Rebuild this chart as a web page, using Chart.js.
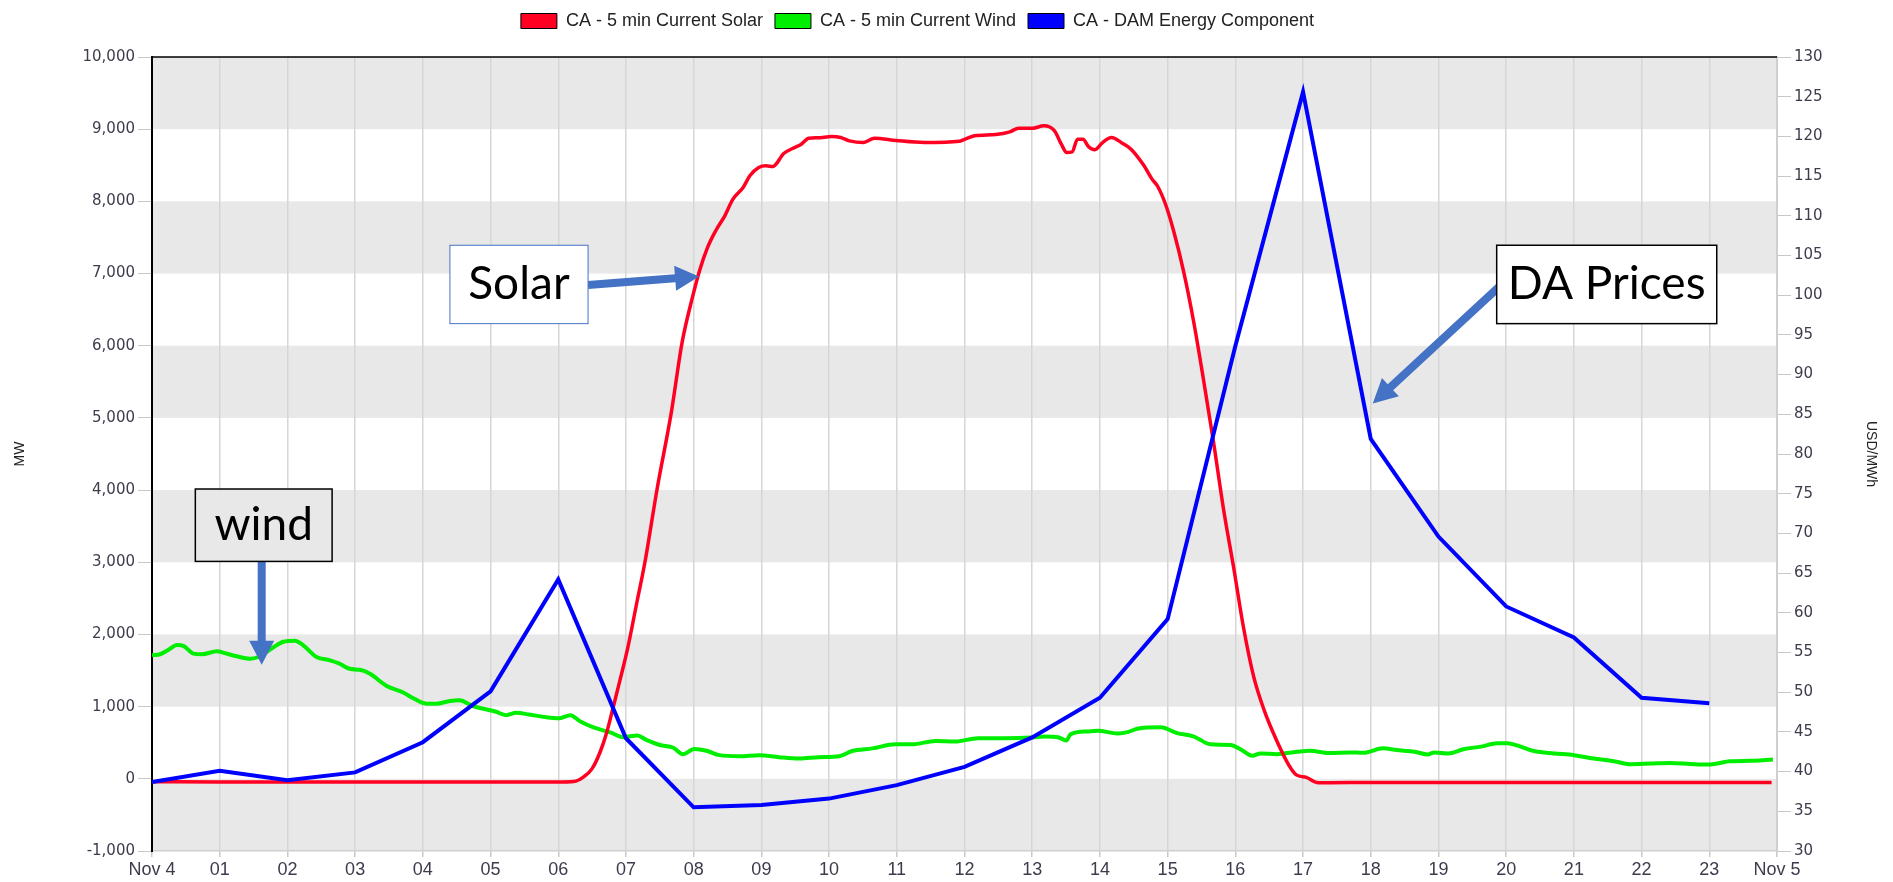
<!DOCTYPE html>
<html>
<head>
<meta charset="utf-8">
<script src="https://cdn.jsdelivr.net/npm/chart.js@4"></script>
<style>
  html, body { margin: 0; padding: 0; background: #fff; }
  canvas { display: block; }
</style>
</head>
<body>
<canvas id="solarWindChart" width="1893" height="882"></canvas>
<script>
// x axis tick labels, one per hour
const hourLabels = ['Nov 4', '01', '02', '03', '04', '05', '06', '07', '08', '09', '10', '11',
    '12', '13', '14', '15', '16', '17', '18', '19', '20', '21', '22', '23', 'Nov 5'];

// CA - 5 min Current Solar (MW)
const solarHours = [0, 1, 2, 3, 4, 5, 5.75, 6.0, 6.23, 6.37, 6.5, 6.62, 6.72, 6.81, 6.91, 7.03, 7.16, 7.28,
    7.46, 7.67, 7.83, 7.99, 8.09, 8.2, 8.33, 8.46, 8.58, 8.73, 8.83, 8.96, 9.07, 9.17, 9.33, 9.46, 9.59,
    9.7, 9.83, 10.04, 10.17, 10.3, 10.51, 10.67, 10.99, 11.41, 11.93, 12.01, 12.15, 12.46, 12.67, 12.8,
    13.01, 13.17, 13.33, 13.43, 13.51, 13.59, 13.67, 13.75, 13.83, 13.92, 14.04, 14.17, 14.33, 14.46,
    14.65, 14.77, 14.85, 14.97, 15.09, 15.24, 15.39, 15.53, 15.68, 15.83, 15.98, 16.12, 16.27, 16.42,
    16.61, 16.79, 16.9, 17.05, 17.2, 17.4, 18, 19, 20, 21, 22, 23, 23.92];
const solarMW = [-40, -45, -45, -45, -45, -45, -45, -45, -38, 23, 141, 375, 657, 985, 1360, 1829, 2439, 3000,
    4016, 5077, 6050, 6700, 7050, 7350, 7600, 7800, 8031, 8192, 8354, 8469, 8492, 8483, 8663, 8732, 8792,
    8875, 8880, 8898, 8885, 8838, 8815, 8875, 8843, 8815, 8834, 8862, 8908, 8926, 8963, 9014,
    9014, 9046, 8977, 8792, 8677, 8686, 8862, 8862, 8760, 8714, 8815, 8885, 8806, 8723,
    8496, 8308, 8213, 7957, 7586, 7013, 6305, 5529, 4653, 3709, 2900, 2100, 1420, 965,
    530, 190, 55, 20, -50, -55, -50, -50, -50, -50, -50, -50, -50];

// CA - 5 min Current Wind (MW)
const windHours = [0, 0.12, 0.25, 0.37, 0.47, 0.61, 0.74, 0.96, 1.06, 1.25, 1.45, 1.57, 1.79, 1.94, 2.11,
    2.23, 2.43, 2.63, 2.77, 2.92, 3.07, 3.22, 3.46, 3.71, 3.86, 4.05, 4.2, 4.4, 4.54, 4.74, 4.94, 5.08,
    5.23, 5.38, 5.57, 5.82, 6.02, 6.18, 6.32, 6.52, 6.77, 6.96, 7.17, 7.3, 7.5, 7.7, 7.84, 8.01, 8.19,
    8.38, 8.68, 8.97, 9.26, 9.56, 9.85, 10.15, 10.34, 10.64, 10.98, 11.23, 11.57, 11.86, 12.2, 12.59,
    12.99, 13.18, 13.38, 13.5, 13.57, 13.82, 13.97, 14.26, 14.41, 14.55, 14.9, 15.14, 15.39, 15.63,
    15.93, 16.07, 16.25, 16.37, 16.61, 16.91, 17.1, 17.4, 17.69, 17.89, 18.18, 18.38, 18.65, 18.84,
    18.94, 19.14, 19.38, 19.63, 19.87, 20.02, 20.17, 20.41, 20.71, 21.0, 21.29, 21.59, 21.83, 22.13,
    22.42, 22.72, 22.96, 23.11, 23.3, 23.6, 23.79, 23.94];
const windMW = [1712, 1726, 1792, 1853, 1838, 1735, 1726, 1768, 1745, 1698, 1665, 1688, 1820, 1899, 1914,
    1853, 1688, 1642, 1595, 1524, 1510, 1454, 1290, 1196, 1116, 1041, 1041, 1079, 1088, 1008, 961, 929,
    882, 915, 891, 854, 840, 882, 797, 713, 642, 577, 600, 539, 469, 431, 342, 413, 389,
    328, 314, 328, 300, 281, 300, 314, 385, 422, 478, 478, 525, 516, 563, 563,
    572, 586, 577, 530, 619, 657, 666, 628, 647, 694, 713, 633, 586, 478,
    469, 413, 319, 352, 342, 375, 389, 356, 366, 361, 422, 399, 375, 338,
    366, 352, 413, 446, 492, 492, 460, 385, 352, 328, 281, 244, 202, 211,
    220, 206, 197, 211, 244, 249, 258, 267];

// CA - DAM Energy Component (USD/MWh), hourly
const damHours = [0, 1, 2, 3, 4, 5, 6, 7, 8, 9, 10, 11, 12, 13, 14, 15, 16, 17, 18, 19, 20, 21, 22, 23];
const damPrice = [38.7, 40.1, 38.9, 39.9, 43.7, 50.1, 64.2, 44.2, 35.5, 35.8, 36.6, 38.3, 40.6, 44.3,
    49.3, 59.2, 93.6, 125.6, 81.9, 69.6, 60.8, 56.9, 49.3, 48.6];

const toPoints = (xs, ys) => xs.map((x, i) => ({ x: x, y: ys[i] }));

// callout boxes and arrows drawn over the chart (data coordinates)
const callouts = [
    { text: 'wind', x0: 0.64, x1: 2.66, y0: 3012, y1: 4015, fill: '#e8e8e8', stroke: '#000', lw: 1.5 },
    { text: 'Solar', x0: 4.40, x1: 6.44, y0: 6306, y1: 7392, fill: '#fff', stroke: '#4472c4', lw: 1 },
    { text: 'DA Prices', x0: 19.86, x1: 23.11, y0: 6306, y1: 7392, fill: '#fff', stroke: '#000', lw: 1.5 }
];
const arrows = [
    { from: [1.62, 3012], to: [1.62, 1580] },
    { from: [6.44, 6840], to: [8.08, 6960] },
    { from: [19.9, 6820], to: [18.03, 5200] }
];

function drawArrow(ctx, x1, y1, x2, y2, shaft, headW, headL, color) {
    const ang = Math.atan2(y2 - y1, x2 - x1);
    const len = Math.hypot(x2 - x1, y2 - y1);
    ctx.save();
    ctx.translate(x1, y1);
    ctx.rotate(ang);
    ctx.fillStyle = color;
    ctx.beginPath();
    ctx.moveTo(0, -shaft / 2);
    ctx.lineTo(len - headL, -shaft / 2);
    ctx.lineTo(len - headL, -headW / 2);
    ctx.lineTo(len, 0);
    ctx.lineTo(len - headL, headW / 2);
    ctx.lineTo(len - headL, shaft / 2);
    ctx.lineTo(0, shaft / 2);
    ctx.closePath();
    ctx.fill();
    ctx.restore();
}

const bandsPlugin = {
    id: 'bands',
    beforeInit(chart) {
        const legend = chart.legend;
        const fit = legend.fit;
        legend.fit = function () {
            fit.call(this);
            this.height = 57;
        };
        // the legend sits a little left of centre in the original
        const draw = legend.draw;
        legend.draw = function () {
            const ctx = this.ctx;
            ctx.save();
            ctx.translate(-28, 0);
            draw.call(this);
            ctx.restore();
        };
    },
    beforeDraw(chart) {
        const { ctx, chartArea: a, scales: { y } } = chart;
        ctx.save();
        ctx.fillStyle = '#fff';
        ctx.fillRect(0, 0, chart.width, chart.height);
        ctx.fillStyle = '#e8e8e8';
        for (let v = -1000; v <= 9000; v += 2000) {
            const top = y.getPixelForValue(v + 1000);
            const bottom = y.getPixelForValue(v);
            ctx.fillRect(a.left, top, a.right - a.left, bottom - top);
        }
        ctx.restore();
    },
    afterDraw(chart) {
        const { ctx, chartArea: a, scales: { x, y } } = chart;
        ctx.save();
        // top border
        ctx.strokeStyle = '#000';
        ctx.lineWidth = 1.5;
        ctx.beginPath();
        ctx.moveTo(a.left, a.top);
        ctx.lineTo(a.right, a.top);
        ctx.stroke();

        arrows.forEach(ar => {
            drawArrow(ctx, x.getPixelForValue(ar.from[0]), y.getPixelForValue(ar.from[1]),
                x.getPixelForValue(ar.to[0]), y.getPixelForValue(ar.to[1]), 8, 25, 24, '#4472c4');
        });

        callouts.forEach(c => {
            const l = x.getPixelForValue(c.x0), r = x.getPixelForValue(c.x1);
            const t = y.getPixelForValue(c.y1), b = y.getPixelForValue(c.y0);
            ctx.fillStyle = c.fill;
            ctx.fillRect(l, t, r - l, b - t);
            ctx.strokeStyle = c.stroke;
            ctx.lineWidth = c.lw;
            ctx.strokeRect(l, t, r - l, b - t);
            ctx.fillStyle = '#000';
            ctx.font = '46px Lato, "Open Sans", sans-serif';
            ctx.textAlign = 'center';
            ctx.textBaseline = 'middle';
            ctx.fillText(c.text, (l + r) / 2, (t + b) / 2);
        });
        ctx.restore();
    }
};

const tickColor = '#3c3c4c';

new Chart(document.getElementById('solarWindChart'), {
    type: 'line',
    data: {
        datasets: [
            {
                label: 'CA - 5 min Current Solar',
                data: toPoints(solarHours, solarMW),
                yAxisID: 'y',
                borderColor: '#ff0022',
                backgroundColor: '#ff0022',
                borderWidth: 3.5,
                pointRadius: 0,
                cubicInterpolationMode: 'monotone',
                order: 1
            },
            {
                label: 'CA - 5 min Current Wind',
                data: toPoints(windHours, windMW),
                yAxisID: 'y',
                borderColor: '#00ee00',
                backgroundColor: '#00ee00',
                borderWidth: 4,
                pointRadius: 0,
                cubicInterpolationMode: 'monotone',
                order: 2
            },
            {
                label: 'CA - DAM Energy Component',
                data: toPoints(damHours, damPrice),
                yAxisID: 'y1',
                borderColor: '#0000ff',
                backgroundColor: '#0000ff',
                borderWidth: 4,
                pointRadius: 0,
                tension: 0,
                order: 0
            }
        ]
    },
    options: {
        responsive: false,
        animation: false,
        events: [],
        layout: { padding: { left: 8, right: 10, top: 0, bottom: 0 } },
        plugins: {
            legend: {
                position: 'top',
                labels: {
                    boxWidth: 36,
                    boxHeight: 15,
                    padding: 12,
                    color: '#222',
                    font: { family: '"Liberation Sans", Arial, sans-serif', size: 18 },
                    generateLabels: chart => chart.data.datasets.map((ds, i) => ({
                        text: ds.label,
                        fillStyle: ds.borderColor,
                        strokeStyle: '#000',
                        lineWidth: 1,
                        hidden: false,
                        datasetIndex: i,
                        fontColor: '#222'
                    }))
                }
            },
            tooltip: { enabled: false }
        },
        scales: {
            x: {
                type: 'linear',
                min: 0,
                max: 24,
                afterFit: scale => { scale.height = 31; },
                ticks: {
                    stepSize: 1,
                    autoSkip: false,
                    maxRotation: 0,
                    padding: 2,
                    color: tickColor,
                    font: { family: '"Liberation Sans", Arial, sans-serif', size: 18 },
                    callback: value => hourLabels[value]
                },
                grid: { color: '#d6d6d6', lineWidth: 1.5, tickLength: 6, tickColor: '#c8c8c8' },
                border: { color: '#cfcfcf', width: 1.5 }
            },
            y: {
                position: 'left',
                min: -1000,
                max: 10000,
                afterFit: scale => { scale.width = 144; },
                ticks: {
                    stepSize: 1000,
                    padding: 3,
                    color: tickColor,
                    font: { family: '"DejaVu Sans", Verdana, sans-serif', size: 15 },
                    callback: value => value.toLocaleString('en-US')
                },
                grid: { drawOnChartArea: false, tickLength: 14, color: '#c8c8c8', tickColor: '#c8c8c8' },
                border: { color: '#000', width: 2 },
                title: {
                    display: true,
                    text: 'MW',
                    color: '#222',
                    padding: 4,
                    font: { family: '"Liberation Sans", Arial, sans-serif', size: 14 }
                }
            },
            y1: {
                position: 'right',
                min: 30,
                max: 130,
                afterFit: scale => { scale.width = 106; },
                ticks: {
                    stepSize: 5,
                    padding: 3,
                    color: tickColor,
                    font: { family: '"DejaVu Sans", Verdana, sans-serif', size: 15 }
                },
                grid: { drawOnChartArea: false, tickLength: 14, color: '#c8c8c8', tickColor: '#c8c8c8' },
                border: { color: '#cfcfcf', width: 2 },
                title: {
                    display: true,
                    text: 'USD/MWh',
                    color: '#222',
                    padding: 4,
                    font: { family: '"Liberation Sans", Arial, sans-serif', size: 14 }
                }
            }
        }
    },
    plugins: [bandsPlugin]
});
</script>
</body>
</html>
